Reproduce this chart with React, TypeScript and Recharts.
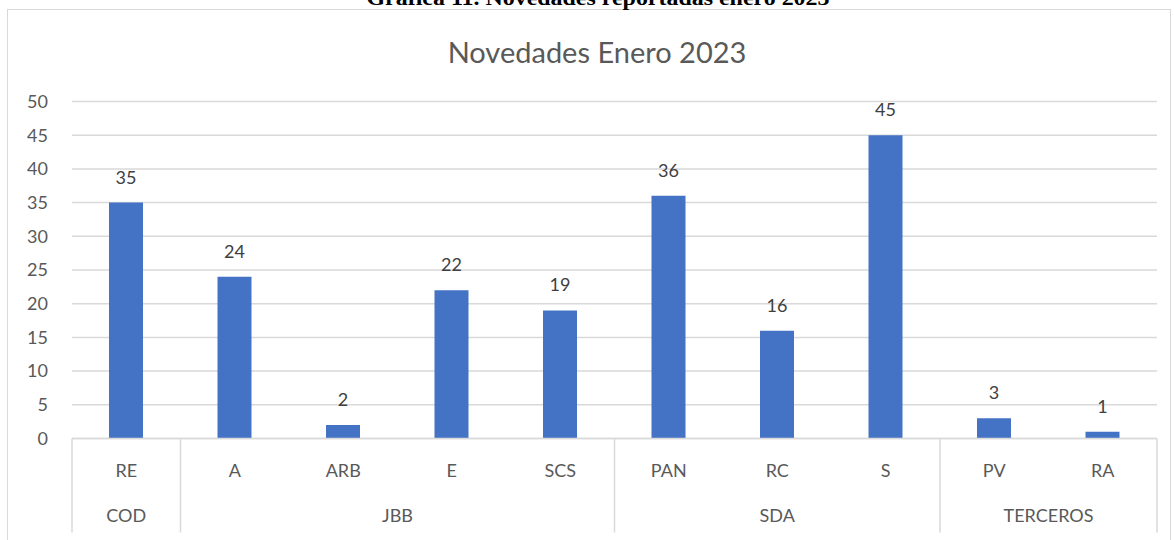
import { BarChart, Bar, XAxis, YAxis, CartesianGrid, LabelList } from "recharts"

const categories = ["RE", "A", "ARB", "E", "SCS", "PAN", "RC", "S", "PV", "RA"]
const values = [35, 24, 2, 22, 19, 36, 16, 45, 3, 1]
const groups = ["COD", "JBB", "SDA", "TERCEROS"]
const groupSizes = [1, 4, 3, 2]
const yTicks = [0, 5, 10, 15, 20, 25, 30, 35, 40, 45, 50]

const data = categories.map((name, i) => ({ name, value: values[i] }))

const W = 1174
const H = 540
const PLOT_LEFT = 72
const PLOT_RIGHT = 1157
const BAND = (PLOT_RIGHT - PLOT_LEFT) / categories.length
const FONT = "Lato, 'Open Sans', sans-serif"
const GRID = "#d9d9d9"
const TEXT = "#595959"

// first category index of each group
const groupStarts = groupSizes.map((_, g) => groupSizes.slice(0, g).reduce((a, b) => a + b, 0))

function CategoryTick(props: any) {
  const { x, y, payload, index } = props
  const g = groupStarts.indexOf(index)
  const isLast = index === categories.length - 1
  return (
    <g>
      <text x={x} y={y + 38} textAnchor="middle" fill={TEXT} fontSize={18} fontFamily={FONT}>
        {payload.value}
      </text>
      {g >= 0 && (
        <>
          <line x1={x - BAND / 2} x2={x - BAND / 2} y1={y} y2={y + 94} stroke={GRID} strokeWidth={1.5} />
          <text
            x={x - BAND / 2 + (groupSizes[g] * BAND) / 2}
            y={y + 83}
            textAnchor="middle"
            fill={TEXT}
            fontSize={18}
            fontFamily={FONT}
          >
            {groups[g]}
          </text>
        </>
      )}
      {isLast && <line x1={x + BAND / 2} x2={x + BAND / 2} y1={y} y2={y + 94} stroke={GRID} strokeWidth={1.5} />}
    </g>
  )
}

export default function App() {
  return (
    <div style={{ position: "fixed", top: 0, left: 0, width: W, height: H, overflow: "hidden", background: "#fff" }}>
      <div
        style={{
          position: "absolute",
          left: 7,
          top: 9,
          width: 1164,
          height: 600,
          border: `1.5px solid ${GRID}`,
          boxSizing: "border-box",
        }}
      />
      <svg width={W} height={H} style={{ position: "absolute", left: 0, top: 0 }}>
        <text
          x={598}
          y={4.5}
          textAnchor="middle"
          fontFamily="'Liberation Serif', 'Times New Roman', serif"
          fontWeight="bold"
          fontSize={22}
          fill="#000"
          textLength={463}
          lengthAdjust="spacingAndGlyphs"
        >
          Gráfica 11. Novedades reportadas enero 2023
        </text>
        <text x={597} y={63} textAnchor="middle" fontFamily={FONT} fontSize={29} fill={TEXT}>
          Novedades Enero 2023
        </text>
      </svg>
      <div style={{ position: "absolute", left: 0, top: 0 }}>
        <BarChart
          width={W}
          height={H}
          data={data}
          margin={{ top: 101.5, right: W - PLOT_RIGHT, bottom: 0, left: 0 }}
          barCategoryGap={0}
        >
          <CartesianGrid vertical={false} stroke={GRID} strokeWidth={1.5} />
          <YAxis
            width={PLOT_LEFT}
            domain={[0, 50]}
            ticks={yTicks}
            axisLine={false}
            tickLine={false}
            tickSize={0}
            tickMargin={24}
            tick={{ fill: TEXT, fontSize: 18, fontFamily: FONT }}
          />
          <XAxis
            dataKey="name"
            height={101.5}
            axisLine={{ stroke: GRID, strokeWidth: 1.5 }}
            tickLine={false}
            tickSize={0}
            tickMargin={0}
            interval={0}
            tick={<CategoryTick />}
          />
          <Bar dataKey="value" fill="#4472C4" barSize={34} isAnimationActive={false}>
            <LabelList dataKey="value" position="top" offset={19} fill="#404040" fontSize={18} fontFamily={FONT} />
          </Bar>
        </BarChart>
      </div>
    </div>
  )
}
